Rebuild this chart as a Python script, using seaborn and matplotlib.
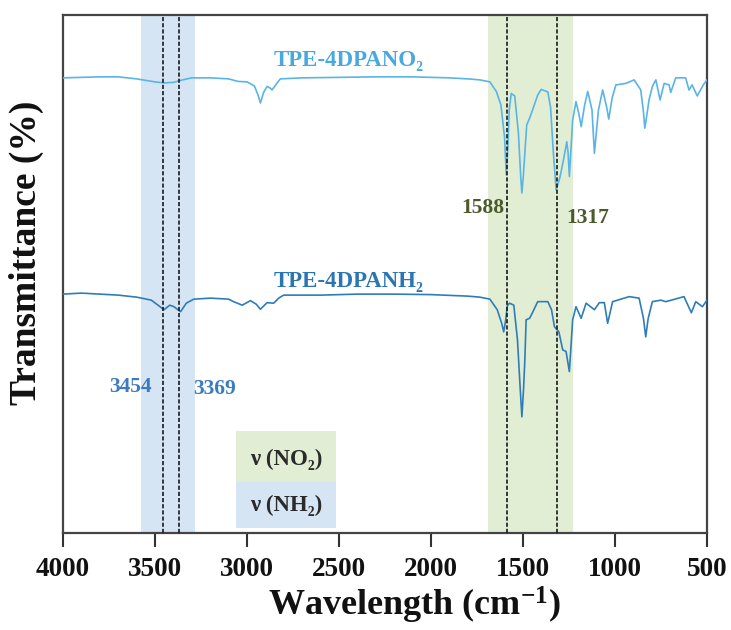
import numpy as np
import pandas as pd
import seaborn as sns
import matplotlib
matplotlib.use("Agg")
import matplotlib.pyplot as plt
from matplotlib.ticker import AutoMinorLocator

# ---- data ----
no2_wn = [4000, 3900, 3800, 3700, 3600, 3500, 3450, 3400, 3350, 3300, 3200, 3100, 3050, 3000,
          2960, 2940, 2927, 2910, 2891, 2875, 2864, 2840, 2819, 2700, 2500, 2300, 2100, 1900,
          1800, 1735, 1680, 1645, 1620, 1600, 1591, 1582, 1575, 1564, 1545, 1525, 1512, 1506,
          1498, 1480, 1464, 1448, 1420, 1401, 1365, 1350, 1335, 1320, 1300, 1280, 1262, 1255,
          1248, 1230, 1212, 1195, 1184, 1165, 1148, 1125, 1112, 1090, 1067, 1045, 1034, 1015,
          995, 941, 896, 860, 845, 838, 825, 815, 797, 778, 755, 733, 706, 697, 670, 616, 598,
          581, 553, 520, 500]
no2_t = [86.9, 87.0, 87.1, 87.1, 86.7, 86.1, 85.9, 86.0, 86.5, 86.9, 86.9, 86.7, 86.2, 86.1,
         85.3, 83.5, 81.9, 84.0, 85.2, 84.9, 84.5, 85.7, 86.7, 86.9, 87.0, 87.1, 87.1, 86.9,
         86.7, 86.5, 86.1, 84.2, 81.5, 75.0, 67.6, 73.0, 80.5, 83.8, 83.3, 76.0, 67.0, 64.0,
         67.5, 77.5, 78.9, 80.5, 83.5, 84.6, 84.1, 81.0, 72.0, 64.6, 67.0, 70.6, 74.2, 72.0,
         67.3, 78.5, 82.2, 79.5, 77.2, 81.5, 84.2, 80.5, 71.9, 80.5, 84.5, 81.0, 78.7, 83.0,
         85.5, 85.8, 86.5, 84.5, 80.0, 76.9, 80.0, 82.5, 85.2, 86.5, 82.5, 85.8, 85.5, 84.0,
         86.9, 86.9, 84.5, 85.5, 83.3, 85.5, 86.5]

nh2_wn = [4000, 3900, 3800, 3700, 3600, 3520, 3451, 3420, 3397, 3361, 3330, 3289, 3198, 3100,
          3073, 3026, 2981, 2950, 2927, 2891, 2855, 2828, 2801, 2600, 2400, 2200, 2000, 1800,
          1735, 1680, 1640, 1615, 1605, 1595, 1585, 1573, 1550, 1530, 1515, 1506, 1497, 1490,
          1483, 1464, 1450, 1420, 1365, 1345, 1329, 1305, 1284, 1266, 1248, 1230, 1212, 1184,
          1157, 1112, 1085, 1058, 1040, 1013, 923, 869, 845, 833, 820, 797, 751, 724, 625, 585,
          561, 525, 500]
nh2_t = [43.9, 44.1, 43.9, 43.7, 43.3, 42.7, 40.8, 41.7, 41.4, 40.4, 42.1, 42.9, 43.1, 42.9,
         42.4, 41.7, 42.6, 41.9, 40.9, 42.2, 42.1, 43.1, 43.7, 43.7, 43.9, 43.9, 43.8, 43.5,
         43.3, 42.9, 40.8, 38.0, 36.4, 38.5, 41.6, 42.1, 41.7, 34.8, 25.0, 19.5, 25.0, 30.8,
         38.8, 39.1, 40.1, 42.4, 42.4, 40.8, 37.4, 36.4, 32.8, 32.5, 28.5, 38.8, 41.4, 39.1,
         42.1, 40.8, 42.2, 42.2, 38.1, 42.4, 43.4, 43.1, 39.0, 35.4, 39.0, 42.4, 42.7, 42.4,
         43.4, 40.2, 42.4, 41.4, 42.7]

series_names = ["TPE-4DPANO₂", "TPE-4DPANH₂"]
series_colors = ["#5ab4e6", "#2f7db8"]
label_colors = ["#4aa8e0", "#2a76b3"]

nh2_peaks = [3454, 3369]
no2_peaks = [1588, 1317]
nh2_band = (3576, 3283)
no2_band = (1690, 1230)
box_span = (3060, 2516)
xticks = [4000, 3500, 3000, 2500, 2000, 1500, 1000, 500]

blue_fill = "#d6e5f3"
green_fill = "#e2eed4"

# ---- style ----
sns.set_style("white")
plt.rcParams["font.family"] = ["Liberation Serif", "DejaVu Serif"]
plt.rcParams["font.weight"] = "bold"
plt.rcParams["mathtext.fontset"] = "custom"
plt.rcParams["mathtext.rm"] = "Liberation Serif:bold"
plt.rcParams["mathtext.bf"] = "Liberation Serif:bold"
plt.rcParams["mathtext.it"] = "Liberation Serif:bold"

fig = plt.figure(figsize=(7.31, 6.30), dpi=100)
ax = fig.add_axes([63 / 731, 97 / 630, 644 / 731, 518 / 630])

# bands
ax.axvspan(nh2_band[1], nh2_band[0], color=blue_fill, lw=0, zorder=0)
ax.axvspan(no2_band[1], no2_band[0], color=green_fill, lw=0, zorder=0)

df = pd.concat([
    pd.DataFrame({"wn": no2_wn, "T": no2_t, "sample": series_names[0]}),
    pd.DataFrame({"wn": nh2_wn, "T": nh2_t, "sample": series_names[1]}),
])
sns.lineplot(data=df, x="wn", y="T", hue="sample", palette=series_colors,
             hue_order=series_names, lw=1.2, legend=False, ax=ax, zorder=3)

for p in nh2_peaks + no2_peaks:
    ax.axvline(p, color="#1a1a1a", ls=(0, (2.5, 1.2)), lw=1.2, zorder=4)

# legend-like boxes
ax.fill_between(box_span, 6.6, 16.6, color=green_fill, lw=0, zorder=1)
ax.fill_between(box_span, -2.6, 6.6, color=blue_fill, lw=0, zorder=1)
bx = (box_span[0] + box_span[1]) / 2
ax.text(bx, 11.0, "ν (NO₂)", ha="center", va="center", fontsize=16.5,
        fontweight="bold", color="#2a2a2a", zorder=5)
ax.text(bx, 1.8, "ν (NH₂)", ha="center", va="center", fontsize=16.5,
        fontweight="bold", color="#2a2a2a", zorder=5)

# series labels
ax.text(2446, 90.4, series_names[0], ha="center", va="center", fontsize=16.5,
        fontweight="bold", color=label_colors[0])
ax.text(2446, 46.4, series_names[1], ha="center", va="center", fontsize=16.5,
        fontweight="bold", color=label_colors[1])

# peak labels
ax.text(3633, 25.4, "3454", ha="center", va="center", fontsize=15.5,
        fontweight="bold", color="#3b7cc0")
ax.text(3179, 25.0, "3369", ha="center", va="center", fontsize=15.5,
        fontweight="bold", color="#3b7cc0")
ax.text(1717, 61.0, "1588", ha="center", va="center", fontsize=15.5,
        fontweight="bold", color="#4b5a2c")
ax.text(1147, 59.0, "1317", ha="center", va="center", fontsize=15.5,
        fontweight="bold", color="#4b5a2c")

ax.set_xlim(4000, 500)
ax.set_ylim(-3.6, 99.4)
ax.set_xticks(xticks)
ax.set_xticklabels([str(t) for t in xticks])
ax.xaxis.set_minor_locator(AutoMinorLocator(2))
ax.set_yticks([])
ax.tick_params(axis="x", which="major", direction="out", length=10, width=1.5,
               labelsize=19.5, pad=7, colors="#333333", labelcolor="#111111")
ax.tick_params(axis="x", which="minor", direction="out", length=6, width=1.5,
               colors="#333333")
ax.tick_params(axis="x", top=False, bottom=True)
for lab in ax.get_xticklabels():
    lab.set_fontweight("bold")

for s in ax.spines.values():
    s.set_color("#444444")
    s.set_linewidth(1.6)
    s.set_visible(True)

ax.set_xlabel(r"Wavelength (cm$^{-1}$)", fontsize=26, fontweight="bold", color="#111111")
ax.set_ylabel("Transmittance (%)", fontsize=27, fontweight="bold", color="#111111")
ax.xaxis.set_label_coords(0.545, -0.139)
ax.xaxis.label.set_va("center")
ax.yaxis.set_label_coords(-0.056, 0.54)
ax.yaxis.label.set_va("center")

fig.savefig("out.png", dpi=100, facecolor="white")
